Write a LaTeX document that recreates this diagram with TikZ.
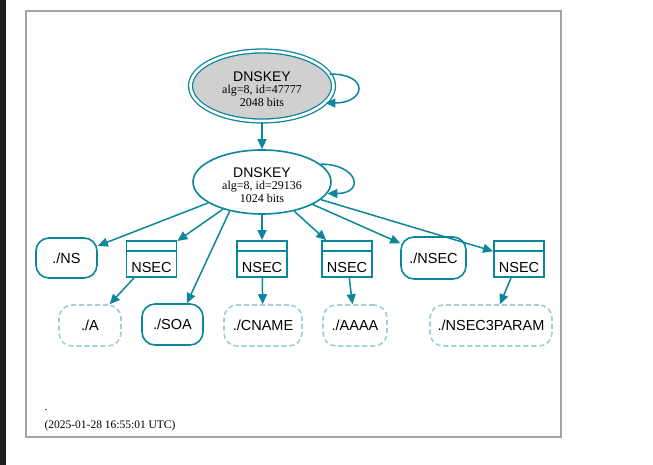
\documentclass[tikz,border=0pt]{standalone}
\usepackage{fontspec}
\setmainfont{Liberation Serif}
\setsansfont{Liberation Sans}
\usetikzlibrary{arrows.meta,shapes.geometric,positioning,calc}
\definecolor{secure}{HTML}{0A879A}
\definecolor{ksgray}{HTML}{D0D0D0}
\definecolor{framegray}{HTML}{A3A3A3}
\definecolor{sidebar}{HTML}{1E1E1E}
\tikzset{
  dnskey/.style={
    ellipse, draw=secure, line width=1.6pt, inner sep=0pt,
    minimum width=138pt, minimum height=64pt, align=center,
    font=\fontsize{12}{12.5}\selectfont
  },
  rrset/.style={
    rectangle, rounded corners=13pt, draw=secure, line width=1.6pt,
    minimum width=61pt, minimum height=40pt,
    font=\sffamily\fontsize{14.5}{16}\selectfont
  },
  nxrrset/.style={rrset, draw=secure!40, dash pattern=on 5pt off 3pt},
  nsecrec/.style={
    rectangle, draw=secure, line width=1.8pt, inner sep=0pt,
    minimum width=50pt, minimum height=36pt,
    text height=28pt, text depth=2pt,
    font=\sffamily\fontsize{14.5}{16}\selectfont,
    path picture={\draw[secure, line width=1.8pt]
      ([yshift=-10pt]path picture bounding box.north west) --
      ([yshift=-10pt]path picture bounding box.north east);}
  },
  sigarrow/.style={
    -{Triangle[length=10pt,width=9pt]}, line width=1.5pt, draw=secure
  },
}
\newcommand{\keylabel}[3]{\rule{0pt}{16pt}{\sffamily\fontsize{14}{14}\selectfont #1}\\#2\\#3}

\begin{document}
\begin{tikzpicture}[x=1pt, y=-1pt]
  \useasboundingbox (0,0) rectangle (653,465);
  \fill[sidebar] (0,0) rectangle (6,465);
  \draw[framegray, line width=1.5pt] (26,11) rectangle (561,437);

  \node[dnskey, fill=ksgray, double=white, double distance=2.6pt, line width=1.3pt,
        minimum width=143pt, minimum height=70pt] (ksk) at (262,86)
        {\keylabel{DNSKEY}{alg=8, id=47777}{2048 bits}};
  \node[dnskey] (zsk) at (262,182) {\keylabel{DNSKEY}{alg=8, id=29136}{1024 bits}};

  \node[rrset] (ns) at (66.5,258) {./NS};
  \node[nsecrec] (nsec1) at (151.5,259) {NSEC};
  \node[nsecrec] (nsec2) at (262,259) {NSEC};
  \node[nsecrec] (nsec3) at (347,259) {NSEC};
  \node[rrset, minimum width=65pt, minimum height=42pt] (nsecrr) at (433.5,258) {./NSEC};
  \node[nsecrec] (nsec4) at (519,259) {NSEC};

  \node[nxrrset, minimum width=62pt, minimum height=41pt] (nxa) at (90,325.5) {./A};
  \node[rrset, minimum height=41pt] (soa) at (172.5,324.5) {./SOA};
  \node[nxrrset, minimum width=78pt, minimum height=41pt] (nxcname) at (263,325.5) {./CNAME};
  \node[nxrrset, minimum width=64pt, minimum height=41pt] (nxaaaa) at (355,325.5) {./AAAA};
  \node[nxrrset, minimum width=122pt, minimum height=41pt] (nxparam) at (491,325.5) {./NSEC3PARAM};

  \draw[sigarrow] (ksk.10) to[out=0, in=0, looseness=3.5] (ksk.-15);
  \draw[sigarrow] (zsk.17) to[out=0, in=0, looseness=3.2] (zsk.-10);
  \draw[sigarrow] (ksk) -- (zsk);

  \draw[sigarrow] (zsk) -- (ns);
  \draw[sigarrow] (zsk) -- (nsec1);
  \draw[sigarrow] (zsk.222) -- (soa.56);
  \draw[sigarrow] (zsk) -- (nsec2);
  \draw[sigarrow] (zsk) -- (nsec3);
  \draw[sigarrow] (zsk) -- (nsecrr);
  \draw[sigarrow] (zsk) -- (nsec4);

  \draw[sigarrow] (nsec1) -- (nxa);
  \draw[sigarrow] (nsec2) -- (nxcname);
  \draw[sigarrow] (nsec3) -- (nxaaaa);
  \draw[sigarrow] (nsec4) -- (nxparam);

  \node[anchor=base west, font=\fontsize{12}{12}\selectfont] (zone) at (41,410) {.};
  \node[anchor=base west, font=\fontsize{11.5}{12}\selectfont] (stamp) at (41,428) {(2025-01-28 16:55:01 UTC)};
\end{tikzpicture}
\end{document}
